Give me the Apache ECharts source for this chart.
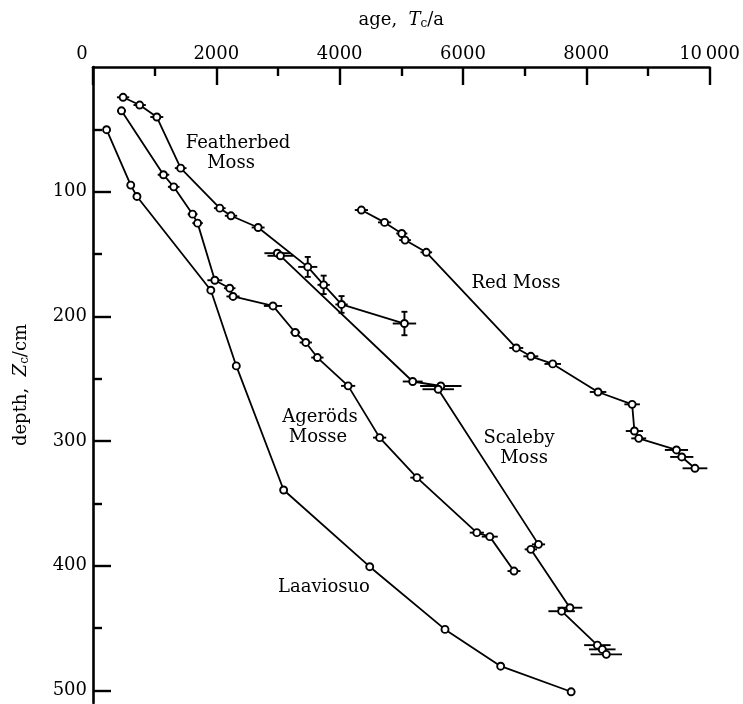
<!DOCTYPE html>
<html>
<head>
<meta charset="utf-8">
<script src="https://cdn.jsdelivr.net/npm/echarts@6/dist/echarts.min.js"></script>
<style>
  html, body { margin: 0; padding: 0; background: #fff; }
  #chart { width: 743px; height: 704px; }
</style>
</head>
<body>
<div id="chart"></div>
<script>
// ---------- data (age in years, depth in cm) ----------
const xTickValues = [0, 2000, 4000, 6000, 8000, 10000];
const yTickValues = [100, 200, 300, 400, 500];
const yMinorTickValues = [50, 150, 250, 350, 450];

const featherAge      = [488, 757, 1035, 1422, 2056, 2238, 2678, 3483, 3741, 4031, 5051];
const featherDepth    = [24.3, 30.5, 40.1, 81.1, 113.2, 119.3, 128.7, 160.3, 174.7, 190.4, 205.7];
const featherAgeErr   = [100, 100, 105, 95, 95, 100, 105, 155, 100, 100, 190];
const featherDepthErr = [0, 0, 0, 0, 0, 0, 0, 8, 7.4, 6.7, 9.4];

const redAge      = [4353, 4729, 5008, 5061, 5406, 6865, 7101, 7456, 8191, 8744, 8781, 8851, 9463, 9549, 9763];
const redDepth    = [114.7, 124.6, 133.5, 138.8, 148.6, 225.3, 232.0, 238.1, 260.6, 270.5, 291.9, 297.8, 307.1, 312.7, 321.8];
const redAgeErr   = [107, 107, 90, 95, 94, 113, 121, 134, 134, 126, 140, 121, 188, 188, 201];

const scalebyAge    = [2990, 3040, 5185, 5641, 5599, 7225, 7101, 7735, 7601, 8180, 8260, 8325];
const scalebyDepth  = [149.3, 151.4, 252.2, 255.8, 258.4, 382.8, 386.8, 433.6, 436.4, 463.6, 467.0, 471.0];
const scalebyAgeErr = [210, 210, 161, 335, 255, 107, 100, 201, 215, 215, 215, 255];

const agerodsAge    = [462, 1143, 1309, 1615, 1696, 1976, 2217, 2271, 2919, 3280, 3451, 3639, 4138, 4649, 5254, 6225, 6435, 6828];
const agerodsDepth  = [35.1, 86.4, 96.1, 118.0, 125.2, 171.0, 177.4, 184.0, 191.6, 212.9, 220.9, 233.0, 255.7, 297.2, 329.3, 373.4, 376.6, 404.2];
const agerodsAgeErr = [70, 94, 94, 80, 85, 121, 94, 107, 148, 80, 100, 100, 115, 107, 107, 115, 130, 105];

const laavAge   = [220, 612, 713, 1911, 2324, 3092, 4488, 5709, 6612, 7755];
const laavDepth = [50.3, 94.7, 103.8, 179.0, 239.7, 339.2, 400.7, 451.0, 480.5, 501.0];

// ---------- helpers ----------
const FONT = '"DejaVu Serif", serif';
function pairs(xs, ys) { return xs.map((x, i) => [x, ys[i]]); }
function errRows(xs, ys, ex, ey) {
  return xs.map((x, i) => [x, ys[i], ex ? ex[i] : 0, ey ? ey[i] : 0]);
}
function lineSeries(name, data) {
  return {
    name, type: 'line', data, z: 5,
    symbol: 'circle', symbolSize: 7, showAllSymbol: true,
    lineStyle: { color: '#000', width: 1.8 },
    itemStyle: { color: '#fff', borderColor: '#000', borderWidth: 1.9 },
    emphasis: { disabled: true }, silent: true
  };
}
function errSeries(rows) {
  return {
    type: 'custom', data: rows, z: 3, silent: true,
    encode: { x: 0, y: 1 },
    renderItem(params, api) {
      const x = api.value(0), y = api.value(1), ex = api.value(2), ey = api.value(3);
      const st = { stroke: '#000', lineWidth: 1.9 };
      const ch = [];
      if (ex > 0) {
        const a = api.coord([x - ex, y]), b = api.coord([x + ex, y]);
        ch.push({ type: 'line', shape: { x1: a[0], y1: a[1], x2: b[0], y2: b[1] }, style: st });
      }
      if (ey > 0) {
        const a = api.coord([x, y - ey]), b = api.coord([x, y + ey]);
        ch.push({ type: 'line', shape: { x1: a[0], y1: a[1], x2: b[0], y2: b[1] }, style: st });
        ch.push({ type: 'line', shape: { x1: a[0] - 3, y1: a[1], x2: a[0] + 3, y2: a[1] }, style: st });
        ch.push({ type: 'line', shape: { x1: b[0] - 3, y1: b[1], x2: b[0] + 3, y2: b[1] }, style: st });
      }
      return { type: 'group', children: ch };
    }
  };
}

const chart = echarts.init(document.getElementById('chart'), null, { renderer: 'canvas' });
const axisLineStyle = { color: '#000', width: 2.6 };
const tickStyle = { color: '#000', width: 2.4 };

const option = {
  animation: false,
  backgroundColor: '#fff',
  textStyle: { fontFamily: FONT, color: '#000' },
  grid: { left: 93, right: 29, top: 67, bottom: 1, containLabel: false },
  xAxis: {
    type: 'value', position: 'top', min: 0, max: 10000, interval: 2000,
    axisLine: { show: true, lineStyle: axisLineStyle },
    axisTick: { show: true, inside: true, length: 18, lineStyle: tickStyle },
    minorTick: { show: true, splitNumber: 2, length: 9, lineStyle: tickStyle },
    splitLine: { show: false }, minorSplitLine: { show: false },
    axisLabel: {
      fontFamily: FONT, fontSize: 18, color: '#000', margin: 4,
      formatter: v => v === 10000 ? '10\u2009000' : (v === 0 ? '{z|0}' : String(v)),
      rich: { z: { fontFamily: FONT, fontSize: 18, color: '#000', padding: [0, 22, 0, 0] } }
    },
    name: 'age,  {i|T}{s|c}/a', nameLocation: 'middle', nameGap: 37,
    nameTextStyle: {
      fontFamily: FONT, fontSize: 18, color: '#000',
      rich: {
        i: { fontFamily: FONT, fontSize: 18, fontStyle: 'italic', color: '#000' },
        s: { fontFamily: FONT, fontSize: 12, color: '#000', padding: [8, 0, 0, 0] }
      }
    }
  },
  yAxis: [{
    type: 'value', inverse: true, min: 0, max: 510,
    axisLine: { show: true, onZero: false, lineStyle: axisLineStyle },
    axisTick: { show: true, inside: true, length: 18, lineStyle: tickStyle, customValues: yTickValues },
    axisLabel: { fontFamily: FONT, fontSize: 18, color: '#000', margin: 6, customValues: yTickValues },
    splitLine: { show: false },
    name: 'depth,  {i|Z}{s|c}/cm', nameLocation: 'middle', nameGap: 62,
    nameTextStyle: {
      fontFamily: FONT, fontSize: 18, color: '#000',
      rich: {
        i: { fontFamily: FONT, fontSize: 18, fontStyle: 'italic', color: '#000' },
        s: { fontFamily: FONT, fontSize: 12, color: '#000', padding: [8, 0, 0, 0] }
      }
    }
  }, {
    type: 'value', inverse: true, min: 0, max: 510, position: 'left',
    axisLine: { show: false },
    axisTick: { show: true, inside: true, length: 9, lineStyle: tickStyle, customValues: yMinorTickValues },
    axisLabel: { show: false },
    splitLine: { show: false }
  }],
  series: [
    errSeries(errRows(featherAge, featherDepth, featherAgeErr, featherDepthErr)),
    errSeries(errRows(redAge, redDepth, redAgeErr, null)),
    errSeries(errRows(scalebyAge, scalebyDepth, scalebyAgeErr, null)),
    errSeries(errRows(agerodsAge, agerodsDepth, agerodsAgeErr, null)),
    lineSeries('Featherbed Moss', pairs(featherAge, featherDepth)),
    lineSeries('Red Moss', pairs(redAge, redDepth)),
    lineSeries('Scaleby Moss', pairs(scalebyAge, scalebyDepth)),
    lineSeries('Ageröds Mosse', pairs(agerodsAge, agerodsDepth)),
    lineSeries('Laaviosuo', pairs(laavAge, laavDepth))
  ],
  graphic: [
    { type: 'text', x: 238, y: 143, style: { text: 'Featherbed', font: '18px ' + FONT, fill: '#000', align: 'center', verticalAlign: 'middle' } },
    { type: 'text', x: 231, y: 163, style: { text: 'Moss', font: '18px ' + FONT, fill: '#000', align: 'center', verticalAlign: 'middle' } },
    { type: 'text', x: 516, y: 283, style: { text: 'Red Moss', font: '18px ' + FONT, fill: '#000', align: 'center', verticalAlign: 'middle' } },
    { type: 'text', x: 320, y: 417, style: { text: 'Ageröds', font: '18px ' + FONT, fill: '#000', align: 'center', verticalAlign: 'middle' } },
    { type: 'text', x: 318, y: 437, style: { text: 'Mosse', font: '18px ' + FONT, fill: '#000', align: 'center', verticalAlign: 'middle' } },
    { type: 'text', x: 519, y: 438, style: { text: 'Scaleby', font: '18px ' + FONT, fill: '#000', align: 'center', verticalAlign: 'middle' } },
    { type: 'text', x: 524, y: 458, style: { text: 'Moss', font: '18px ' + FONT, fill: '#000', align: 'center', verticalAlign: 'middle' } },
    { type: 'text', x: 324, y: 587, style: { text: 'Laaviosuo', font: '18px ' + FONT, fill: '#000', align: 'center', verticalAlign: 'middle' } }
  ]
};
chart.setOption(option);
</script>
</body>
</html>
